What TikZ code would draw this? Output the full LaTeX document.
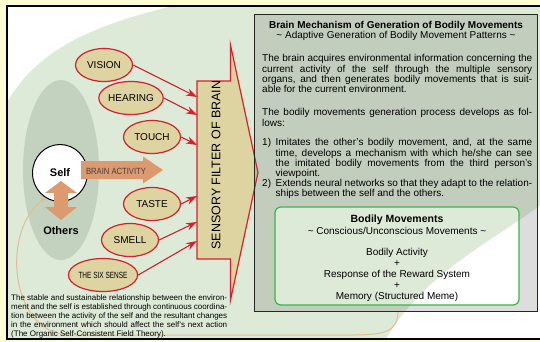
\documentclass[tikz,border=0pt]{standalone}
\usepackage{fontspec}
\setmainfont{Liberation Sans}
\newfontfamily\narrowfont[FakeStretch=0.85]{Liberation Sans}
\newfontfamily\thinfont[FakeStretch=0.72]{Liberation Sans}
\usetikzlibrary{positioning,arrows.meta,shapes.geometric}
\definecolor{paper}{HTML}{FFFDD2}
\definecolor{leaf}{HTML}{DEEAD8}
\definecolor{sage}{HTML}{C3D2BF}
\definecolor{straw}{HTML}{DDD4A2}
\definecolor{brick}{HTML}{D6202C}
\definecolor{peach}{HTML}{DD9A6E}
\definecolor{sand}{HTML}{E3BC93}
\definecolor{mint}{HTML}{3BB54A}
\tikzstyle{every picture}=[x=1pt, y=-1pt, >={Stealth[length=11pt,width=7.5pt]}]
\tikzstyle{sense}=[ellipse, draw=brick, line width=1.2pt, fill=straw, inner sep=0pt,%
	minimum width=57pt, minimum height=33pt, font=\fontsize{10}{10}\selectfont]
\tikzstyle{feed}=[->, draw=brick, fill=brick, line width=1.1pt]
\tikzstyle{para}=[anchor=north west, inner sep=0pt, text width=270pt, align=justify,%
	font=\fontsize{10}{10.2}\selectfont]
\newcommand\blobpath{(0,115) .. controls (30,55) and (80,25) .. (200,0) -- (560,0) -- (560,190)
	.. controls (500,240) and (420,270) .. (380,350) -- (-10,350) -- cycle}

\begin{document}
\begin{tikzpicture}
	\useasboundingbox (0,0) rectangle (540,341);
	% paper, frame and green field
	\fill[paper] (0,0) rectangle (540,341);
	\begin{scope}
		\clip (7,6) rectangle (546,339);
		\fill[white] (7,6) rectangle (546,339);
		\fill[leaf] \blobpath;
	\end{scope}
	\draw[line width=1.2pt] (7,6) rectangle (546,339);
	\fill[sage] (61,170) ellipse [x radius=38, y radius=90];

	% sensory filter
	\draw[brick, line width=1.2pt, fill=straw] (197,81) -- (230.5,81) -- (230.5,45) -- (258,172.5)
		-- (230.5,300) -- (230.5,259) -- (197,259) -- cycle;
	\node (F) [rotate=90, font=\fontsize{12.5}{12.5}\selectfont] at (216,165) {SENSORY FILTER OF BRAIN};
	\coordinate (f1) at (197,97);
	\coordinate (f2) at (197,115);
	\coordinate (f3) at (197,145);
	\coordinate (f4) at (197,196);
	\coordinate (f5) at (197,222);
	\coordinate (f6) at (197,241);

	% senses
	\node (V) [sense] at (104,65) {VISION};
	\node (H) [sense] at (131,98) {HEARING};
	\node (T) [sense] at (152,137) {TOUCH};
	\node (Ta) [sense] at (152,204) {TASTE};
	\node (Sm) [sense] at (130,240) {SMELL};
	\node (X) [sense, font=\thinfont\fontsize{9}{9}\selectfont] at (103,275) {THE SIX SENSE};
	\draw[feed] (V.east) -- (f1);
	\draw[feed] (H.east) -- (f2);
	\draw[feed] (T.east) -- (f3);
	\draw[feed] (Ta.east) -- (f4);
	\draw[feed] (Sm.east) -- (f5);
	\draw[feed] (X.east) -- (f6);

	% brain mechanism
	\node (M) [draw=black!85, line width=1.2pt, fill=black!60, fill opacity=0.22, anchor=north west,%
		minimum width=283pt, minimum height=297pt, inner sep=0pt] at (254,14) {};
	\node (Mt) [font=\bfseries\fontsize{10}{10}\selectfont] at (396,26)
		{Brain Mechanism of Generation of Bodily Movements};
	\node (Ms) [font=\fontsize{10}{10}\selectfont] at (396,36)
		{\textasciitilde{} Adaptive Generation of Bodily Movement Patterns \textasciitilde};
	\node (P1) [para] at (262,54.5) {The brain acquires environmental information concerning the\linebreak
		current activity of the self through the multiple sensory\linebreak
		organs, and then generates bodily movements that is suit-\linebreak
		able for the current environment.};
	\node (P2) [para] at (262,108.5) {The bodily movements generation process develops as fol-\linebreak lows:};
	\node (P3) [para] at (262,138.5) {%
		{\hangindent=13.5pt\hangafter=1 \makebox[13.5pt][l]{1)}Imitates the other's bodily movement, and, at the same\linebreak
		time, develops a mechanism with which he/she can see\linebreak
		the imitated bodily movements from the third person's\linebreak
		viewpoint.\par}
		{\hangindent=13.5pt\hangafter=1 \makebox[13.5pt][l]{2)}Extends neural networks so that they adapt to the relation-\linebreak
		ships between the self and the others.\par}};

	% bodily movements
	\begin{scope}
		\clip[rounded corners=6pt] (275,207) rectangle (519,305);
		\fill[white] (275,207) rectangle (519,305);
		\fill[leaf] \blobpath;
	\end{scope}
	\node (B) [draw=mint, line width=1.2pt, rounded corners=6pt, minimum width=244pt,%
		minimum height=98pt, inner sep=0pt] at (397,256) {};
	\node (Bt) [anchor=north, align=center, inner sep=0pt, font=\fontsize{10}{11}\selectfont] at (397,214.5)
		{{\bfseries\fontsize{10.5}{11}\selectfont Bodily Movements}\\[1pt]
		\textasciitilde{} Conscious/Unconscious Movements \textasciitilde\\[10pt]
		Bodily Activity\\ +\\ Response of the Reward System\\ +\\ Memory (Structured Meme)};

	% self and others
	\node (S) [ellipse, draw, line width=1pt, fill=white, minimum width=55pt, minimum height=57pt,%
		inner sep=0pt, font=\bfseries\fontsize{11}{11}\selectfont] at (60,173) {Self};
	\draw[sand, line width=1pt, -{Stealth[length=5pt,width=5pt]}] ([xshift=2pt]M.south)
		.. controls (397,332) and (385,335) .. (350,335) -- (70,335)
		.. controls (10,335) and (0,230) .. (S.240);
	\fill[peach] (81,161) -- (143,161) -- (143,156.5) -- (163,170) -- (143,183.5) -- (143,179)
		-- (81,179) -- cycle;
	\node (A) [font=\narrowfont\fontsize{9}{9}\selectfont, text=black!75] at (116,171) {BRAIN ACTIVITY};
	\fill[peach] (61,181) -- (77,193) -- (68,193) -- (68,207) -- (77,207) -- (61,220) -- (45,207)
		-- (54,207) -- (54,193) -- (45,193) -- cycle;
	\node (O) [font=\bfseries\fontsize{11}{11}\selectfont] at (61,231) {Others};

	% note
	\node (N) [anchor=north west, inner sep=0pt, text width=216pt, align=justify,%
		font=\fontsize{8}{9}\selectfont] at (11,294) {The stable and sustainable relationship between the environ-\linebreak
		ment and the self is established through continuous coordina-\linebreak
		tion between the activity of the self and the resultant changes\linebreak
		in the environment which should affect the self's next action\linebreak
		(The Organic Self-Consistent Field Theory).};
\end{tikzpicture}
\end{document}
